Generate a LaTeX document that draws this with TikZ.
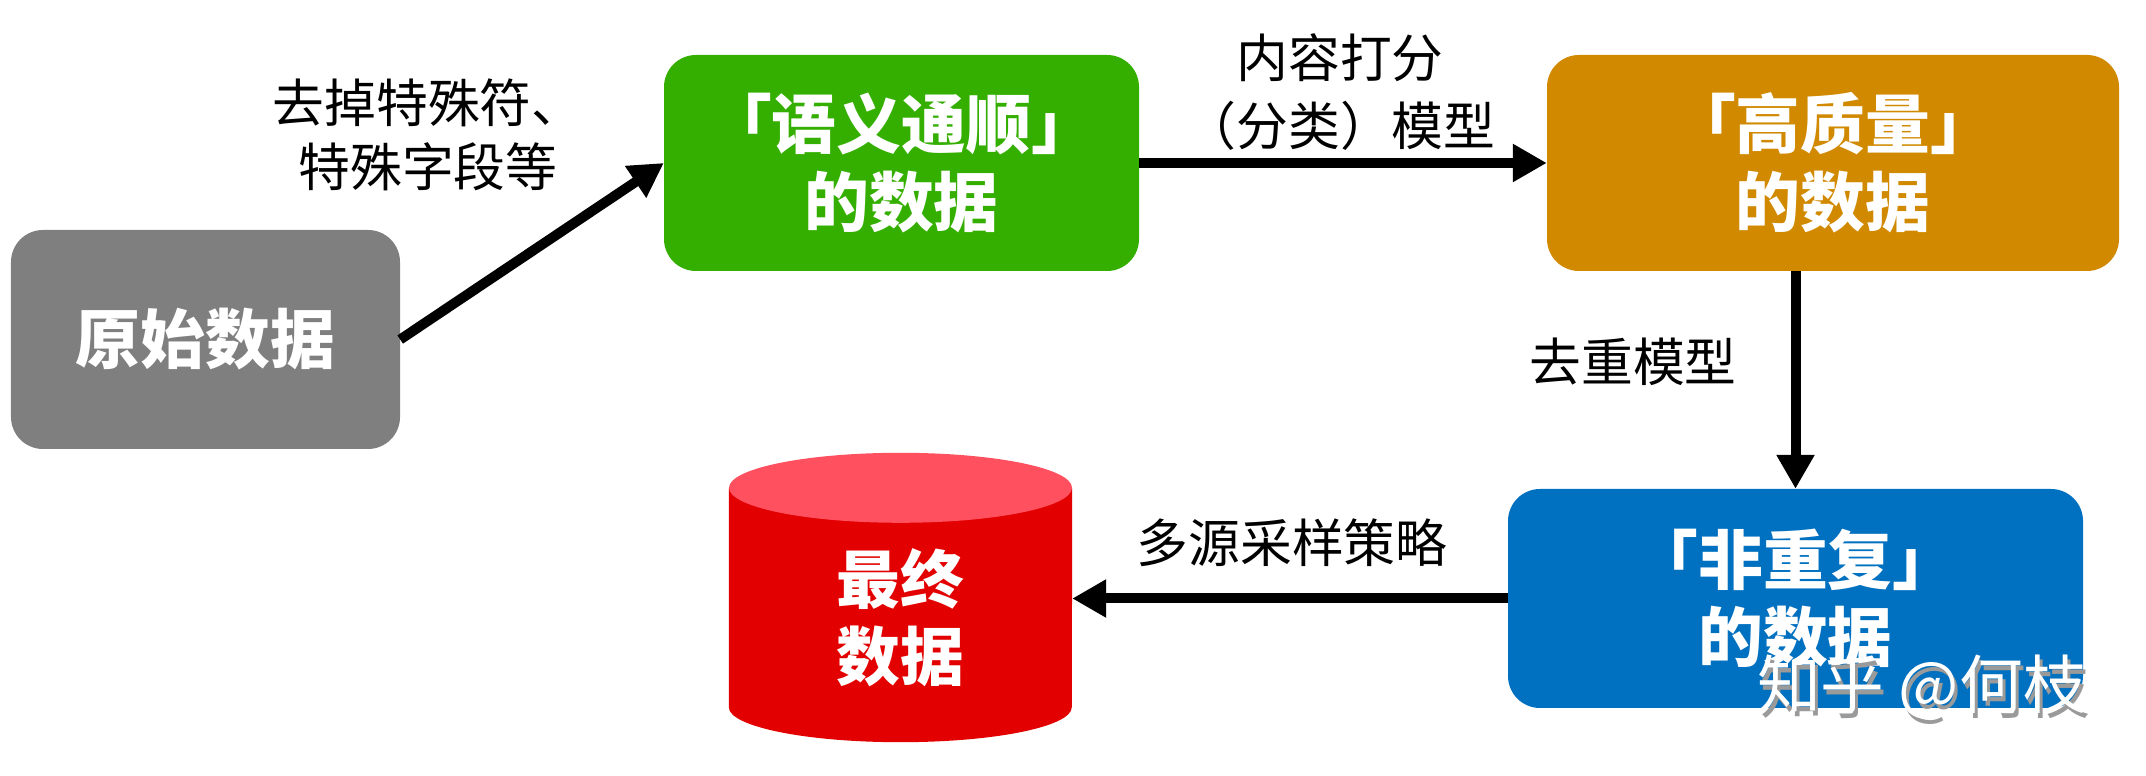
\documentclass[tikz,border=0pt]{standalone}
\usepackage{fontspec}
\setmainfont{Noto Sans CJK SC}
\usetikzlibrary{arrows.meta,calc}

\definecolor{rawgray}{HTML}{7F7F7F}
\definecolor{fluentgreen}{HTML}{34AF00}
\definecolor{qualityorange}{HTML}{D18A00}
\definecolor{uniqueblue}{HTML}{0070C0}
\definecolor{cylbody}{HTML}{E20000}
\definecolor{cyltop}{HTML}{FF5060}
\definecolor{markshadow}{HTML}{9A9A9A}

\begin{document}
\begin{tikzpicture}[x=1bp,y=1bp,
  stage/.style={rounded corners=32bp, text=white, align=center, inner sep=0pt,
    font=\fontsize{65}{78}\selectfont\bfseries},
  flow/.style={line width=10bp, -{Triangle[length=34bp,width=36bp]}},
  note/.style={align=center, inner sep=0pt, font=\fontsize{52}{66}\selectfont}]
\useasboundingbox (0,0) rectangle (2146,776);

% processing stages
\node[stage, fill=rawgray, minimum width=389bp, minimum height=219bp]
  (raw) at (205.5,436.5) {原始数据};
\node[stage, fill=fluentgreen, minimum width=475bp, minimum height=216bp]
  (fluent) at (901.5,613) {「语义通顺」\\的数据};
\node[stage, fill=qualityorange, minimum width=572bp, minimum height=216bp]
  (quality) at (1833,613) {「高质量」\\的数据};
\node[stage, fill=uniqueblue, minimum width=575bp, minimum height=219bp]
  (unique) at (1795.5,177.5) {「非重复」\\的数据};

% final data store, drawn as a cylinder inside the node's frame
\node[minimum width=343bp, minimum height=289bp, inner sep=0pt]
  (final) at (900.5,178.5) {};
\fill[cylbody] ($(final.north west)+(0,-35)$) -- ($(final.south west)+(0,35)$)
  arc[start angle=180, end angle=360, x radius=171.5bp, y radius=35bp]
  -- ($(final.north east)+(0,-35)$) -- cycle;
\fill[cyltop] ($(final.north)+(0,-35)$) ellipse[x radius=171.5bp, y radius=35bp];
\node[stage, font=\fontsize{64}{77}\selectfont\bfseries]
  (finaltext) at ($(final.center)+(0,-20)$) {最终\\数据};

% connectors
\draw[flow] (raw.east) -- (fluent.west);
\draw[flow] (fluent.east) -- (quality.west);
\draw[flow] (unique.north |- quality.south) -- (unique.north);
\draw[flow] (unique.west) -- (final.east |- unique.west);

% connector labels
\node[note, font=\fontsize{52}{64}\selectfont] (cleanlbl) at (428,641) {去掉特殊符、\\特殊字段等};
\node[note, font=\fontsize{52}{69}\selectfont] (scorelbl) at (1340,684) {内容打分\\（分类）模型};
\node[note] (deduplbl) at (1633,414) {去重模型};
\node[note] (samplelbl) at (1292,233) {多源采样策略};

% signature
\node[inner sep=0pt, text=markshadow, font=\fontsize{64}{64}\selectfont]
  (markshade) at (1925,84) {知乎 @何枝};
\node[inner sep=0pt, text=white, font=\fontsize{64}{64}\selectfont]
  (mark) at (1922,89) {知乎 @何枝};
\end{tikzpicture}
\end{document}
